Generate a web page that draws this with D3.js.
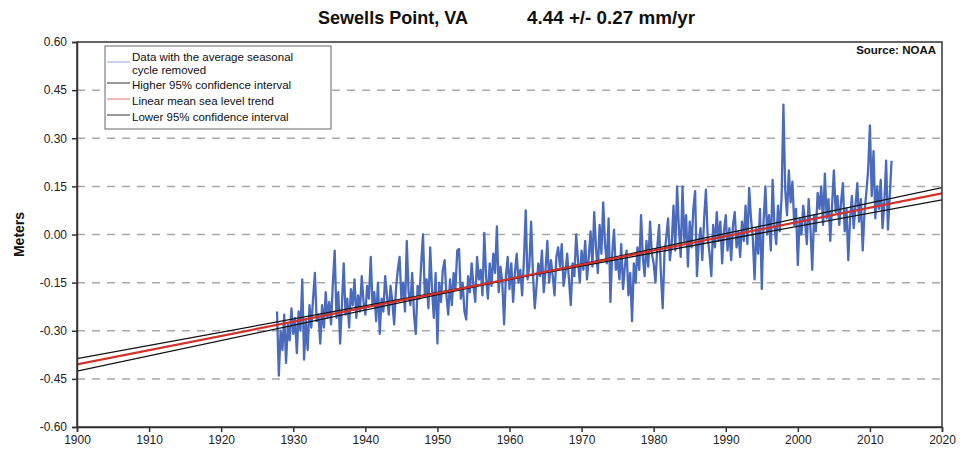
<!DOCTYPE html>
<html lang="en">
<head>
<meta charset="UTF-8">
<title>Sewells Point, VA</title>
<script src="https://cdnjs.cloudflare.com/ajax/libs/d3/7.8.5/d3.min.js"></script>
<style>
  body { margin: 0; background: #fff; }
  text { font-family: "Liberation Sans", Arial, sans-serif; }
</style>
</head>
<body>
<div id="chart"></div>
<script>
// quarterly readings (m), one array per decade
var start1920s = 1927.75;
var sl1920s = [-0.24, -0.44, -0.30, -0.36, -0.25, -0.40, -0.28, -0.33, -0.23];
var sl1930s = [
  -0.31, -0.26, -0.37, -0.24,  -0.30, -0.14, -0.39, -0.27,  -0.36, -0.22, -0.29, -0.20,
  -0.12, -0.27, -0.25, -0.34,  -0.22, -0.29, -0.18, -0.26,  -0.21, -0.28, -0.15, -0.05,
  -0.26, -0.18, -0.34, -0.22,  -0.09, -0.25, -0.20, -0.29,  -0.17, -0.22, -0.14, -0.26,
  -0.19, -0.24, -0.13, -0.21
];
var sl1940s = [
  -0.25, -0.16, -0.20, -0.07,  -0.22, -0.18, -0.27, -0.15,  -0.31, -0.20, -0.24, -0.13,
  -0.19, -0.25, -0.16, -0.21,  -0.28, -0.17, -0.11, -0.07,  -0.20, -0.15, -0.24, -0.02,
  -0.18, -0.22, -0.12, -0.25,  -0.31, -0.16, -0.20, -0.09,   0.00, -0.19, -0.14, -0.23,
  -0.04, -0.17, -0.26, -0.12
];
var sl1950s = [
  -0.34, -0.15, -0.21, -0.11,  -0.08, -0.19, -0.25, -0.14,  -0.22, -0.12, -0.17, -0.05,
  -0.045, -0.20, -0.15, -0.24, -0.265, -0.13, -0.18, -0.09, -0.16, -0.21, -0.07, -0.14,
  -0.11, -0.19, 0.005, -0.13,  -0.20, -0.09, -0.16, -0.06,  -0.12, 0.025, -0.18, -0.10,
  -0.15, -0.28, -0.13, -0.07
];
var sl1960s = [
  -0.17, -0.09, -0.21, -0.12,  -0.06, -0.15, -0.11, -0.19,  -0.08, 0.075, -0.14, -0.10,
   0.04, -0.12, -0.23, -0.16,  -0.09, -0.13, -0.05, -0.18,  -0.11, -0.02, -0.15, -0.08,
  -0.13, -0.19, -0.07, -0.04,  -0.10, -0.03, -0.16, -0.12,  -0.06, -0.14, -0.22, -0.09,
  -0.13,  0.00, -0.08, -0.15
];
var sl1970s = [
  -0.05, -0.11, -0.02, -0.14,  -0.07,  0.01, -0.10,  0.07,  -0.04, -0.12,  0.03, -0.06,
   0.10, -0.03, -0.09,  0.05,  -0.21, -0.06, 0.015, -0.11,  -0.08, -0.14, -0.03, -0.17,
  -0.10, -0.05, -0.19, -0.12,  -0.27, -0.09, -0.15, -0.04,  -0.11,  0.06, -0.07, -0.13,
  -0.02, -0.10,  0.04, -0.06
];
var sl1980s = [
  -0.09, -0.15, -0.04,  0.03,  -0.12, -0.23, -0.06, -0.01,   0.05, -0.08, -0.03,  0.09,
  -0.05,  0.15,  0.02, -0.07,   0.15, -0.02,  0.06, -0.10,   0.04, -0.04,  0.08, 0.135,
  -0.13, -0.03,  0.02, -0.08,   0.05,  0.14, -0.01, -0.06,  -0.13,  0.03, -0.04,  0.07,
  -0.02,  0.04, -0.09,  0.01
];
var sl1990s = [
   0.06, -0.05,  0.02, -0.08,   0.03,  0.07, -0.04,  0.01,  -0.07,  0.04, -0.02,  0.09,
  -0.03, 0.145,  0.05, -0.01,  -0.14,  0.02, -0.06,  0.08,  -0.17,  0.04,  0.15,  0.00,
   0.06, -0.05,  0.17,  0.03,  -0.03,  0.09,  0.01,  0.12,  0.405,  0.14,  0.06,  0.20,
   0.10, 0.165,  0.03,  0.08
];
var sl2000s = [
  -0.095, 0.05,  0.00,  0.09,   0.04, -0.03,  0.11,  0.02,  -0.11,  0.06,  0.01,  0.13,
   0.08,  0.15,  0.03,  0.19,   0.05,  0.11, -0.02,  0.09,   0.20,  0.07,  0.12,  0.03,
   0.10,  0.16,  0.01,  0.08,  -0.08,  0.05,  0.12,  0.02,   0.09,  0.16,  0.04,  0.11,
  -0.05,  0.07,  0.13,  0.20
];
var sl2010s = [0.34, 0.12, 0.26, 0.05, 0.15, 0.08, 0.17, 0.02, 0.10, 0.23, 0.015, 0.12, 0.23];

// linear trend and its 95% confidence lines, end points at 1900 and 2020
var trendYears = [1900, 2020];
var trendMid = [-0.405, 0.128];
var trendHigh = [-0.426, 0.146];
var trendLow = [-0.387, 0.108];

var xTicks = [1900, 1910, 1920, 1930, 1940, 1950, 1960, 1970, 1980, 1990, 2000, 2010, 2020];
var yTicks = [0.60, 0.45, 0.30, 0.15, 0.00, -0.15, -0.30, -0.45, -0.60];
var yTickLabels = ["0.60", "0.45", "0.30", "0.15", "0.00", "-0.15", "-0.30", "-0.45", "-0.60"];

var legendItems = [
  { label: ["Data with the average seasonal", "cycle removed"], color: "#8fa6dd" },
  { label: ["Higher 95% confidence interval"], color: "#333" },
  { label: ["Linear mean sea level trend"], color: "#e07470" },
  { label: ["Lower 95% confidence interval"], color: "#333" }
];

var w = 969, h = 452;
var margin = { top: 42, right: 27, bottom: 25, left: 77 };
var pw = w - margin.left - margin.right;
var ph = h - margin.top - margin.bottom;

// stitch the decades together with their quarterly time stamps
var series = [];
[[start1920s, sl1920s], [1930, sl1930s], [1940, sl1940s], [1950, sl1950s], [1960, sl1960s],
 [1970, sl1970s], [1980, sl1980s], [1990, sl1990s], [2000, sl2000s], [2010, sl2010s]]
  .forEach(function (d) {
    d[1].forEach(function (v, i) { series.push({ year: d[0] + i * 0.25, value: v }); });
  });

var x = d3.scaleLinear().domain([1900, 2020]).range([0, pw]);
var y = d3.scaleLinear().domain([-0.60, 0.60]).range([ph, 0]);

var svg = d3.select("#chart").append("svg")
  .attr("width", w).attr("height", h);

// title in two parts, narrow-looking like the original
svg.append("text")
  .attr("x", 318).attr("y", 24)
  .attr("font-size", "18px").attr("font-weight", "bold").attr("fill", "#111")
  .attr("textLength", 150).attr("lengthAdjust", "spacingAndGlyphs")
  .text("Sewells Point, VA");
svg.append("text")
  .attr("x", 527).attr("y", 24)
  .attr("font-size", "18px").attr("font-weight", "bold").attr("fill", "#111")
  .attr("textLength", 168).attr("lengthAdjust", "spacingAndGlyphs")
  .text("4.44 +/- 0.27 mm/yr");

var g = svg.append("g").attr("transform", "translate(" + margin.left + "," + margin.top + ")");

svg.append("defs").append("clipPath").attr("id", "plotclip")
  .append("rect").attr("width", pw).attr("height", ph);

// dashed gridlines (not on the frame edges)
g.selectAll(".grid")
  .data(yTicks.filter(function (d) { return Math.abs(d) < 0.59; }))
  .enter().append("line")
  .attr("x1", 0).attr("x2", pw)
  .attr("y1", function (d) { return y(d); })
  .attr("y2", function (d) { return y(d); })
  .attr("stroke", "#a8a8a8").attr("stroke-width", 1.5)
  .attr("stroke-dasharray", "8,7");

var plot = g.append("g").attr("clip-path", "url(#plotclip)");

var line = d3.line()
  .x(function (d) { return x(d.year); })
  .y(function (d) { return y(d.value); });

plot.append("path")
  .datum(series)
  .attr("d", line)
  .attr("fill", "none")
  .attr("stroke", "#4a6bbd")
  .attr("stroke-width", 2.3)
  .attr("stroke-linejoin", "round");

function trendPath(vals) {
  return trendYears.map(function (yr, i) { return { year: yr, value: vals[i] }; });
}
[[trendHigh, "#111", 1.3], [trendLow, "#111", 1.3], [trendMid, "#d2322b", 2.2]].forEach(function (t) {
  plot.append("path")
    .datum(trendPath(t[0]))
    .attr("d", line)
    .attr("fill", "none")
    .attr("stroke", t[1])
    .attr("stroke-width", t[2]);
});

// frame
g.append("rect")
  .attr("width", pw).attr("height", ph)
  .attr("fill", "none").attr("stroke", "#333").attr("stroke-width", 1.5);

var xAxis = d3.axisBottom(x).tickValues(xTicks).tickFormat(d3.format("d")).tickSize(5).tickPadding(3);
var xg = g.append("g").attr("transform", "translate(0," + ph + ")").call(xAxis);
var yAxis = d3.axisLeft(y).tickValues(yTicks)
  .tickFormat(function (d, i) { return yTickLabels[i]; }).tickSize(5).tickPadding(5);
var yg = g.append("g").call(yAxis);
[xg, yg].forEach(function (a) {
  a.select(".domain").attr("stroke", "#333").attr("stroke-width", 1.5);
  a.selectAll(".tick line").attr("stroke", "#333").attr("stroke-width", 1.5);
  a.selectAll("text").attr("font-size", "12px").attr("fill", "#222")
    .attr("font-family", "'Liberation Sans', Arial, sans-serif");
});

svg.append("text")
  .attr("transform", "translate(24," + (margin.top + ph / 2) + ") rotate(-90)")
  .attr("text-anchor", "middle")
  .attr("font-size", "14px").attr("font-weight", "bold").attr("fill", "#111")
  .text("Meters");

svg.append("text")
  .attr("x", margin.left + pw - 6).attr("y", margin.top + 12)
  .attr("text-anchor", "end")
  .attr("font-size", "11.5px").attr("font-weight", "bold").attr("fill", "#111")
  .text("Source: NOAA");

// legend
var lg = svg.append("g").attr("transform", "translate(105,46)");
lg.append("rect").attr("width", 226).attr("height", 83)
  .attr("fill", "#fff").attr("stroke", "#666").attr("stroke-width", 1);
var rowY = [11, 39, 55, 71];
legendItems.forEach(function (d, i) {
  var ly = rowY[i];
  var sy = i === 0 ? ly + 5 : ly - 2;
  lg.append("line")
    .attr("x1", 2).attr("x2", 25)
    .attr("y1", sy).attr("y2", sy)
    .attr("stroke", d.color)
    .attr("stroke-width", 1);
  d.label.forEach(function (s, j) {
    lg.append("text")
      .attr("x", 27).attr("y", ly + j * 12.5 + 4)
      .attr("font-size", "11.5px").attr("fill", "#111")
      .text(s);
  });
});
</script>
</body>
</html>
